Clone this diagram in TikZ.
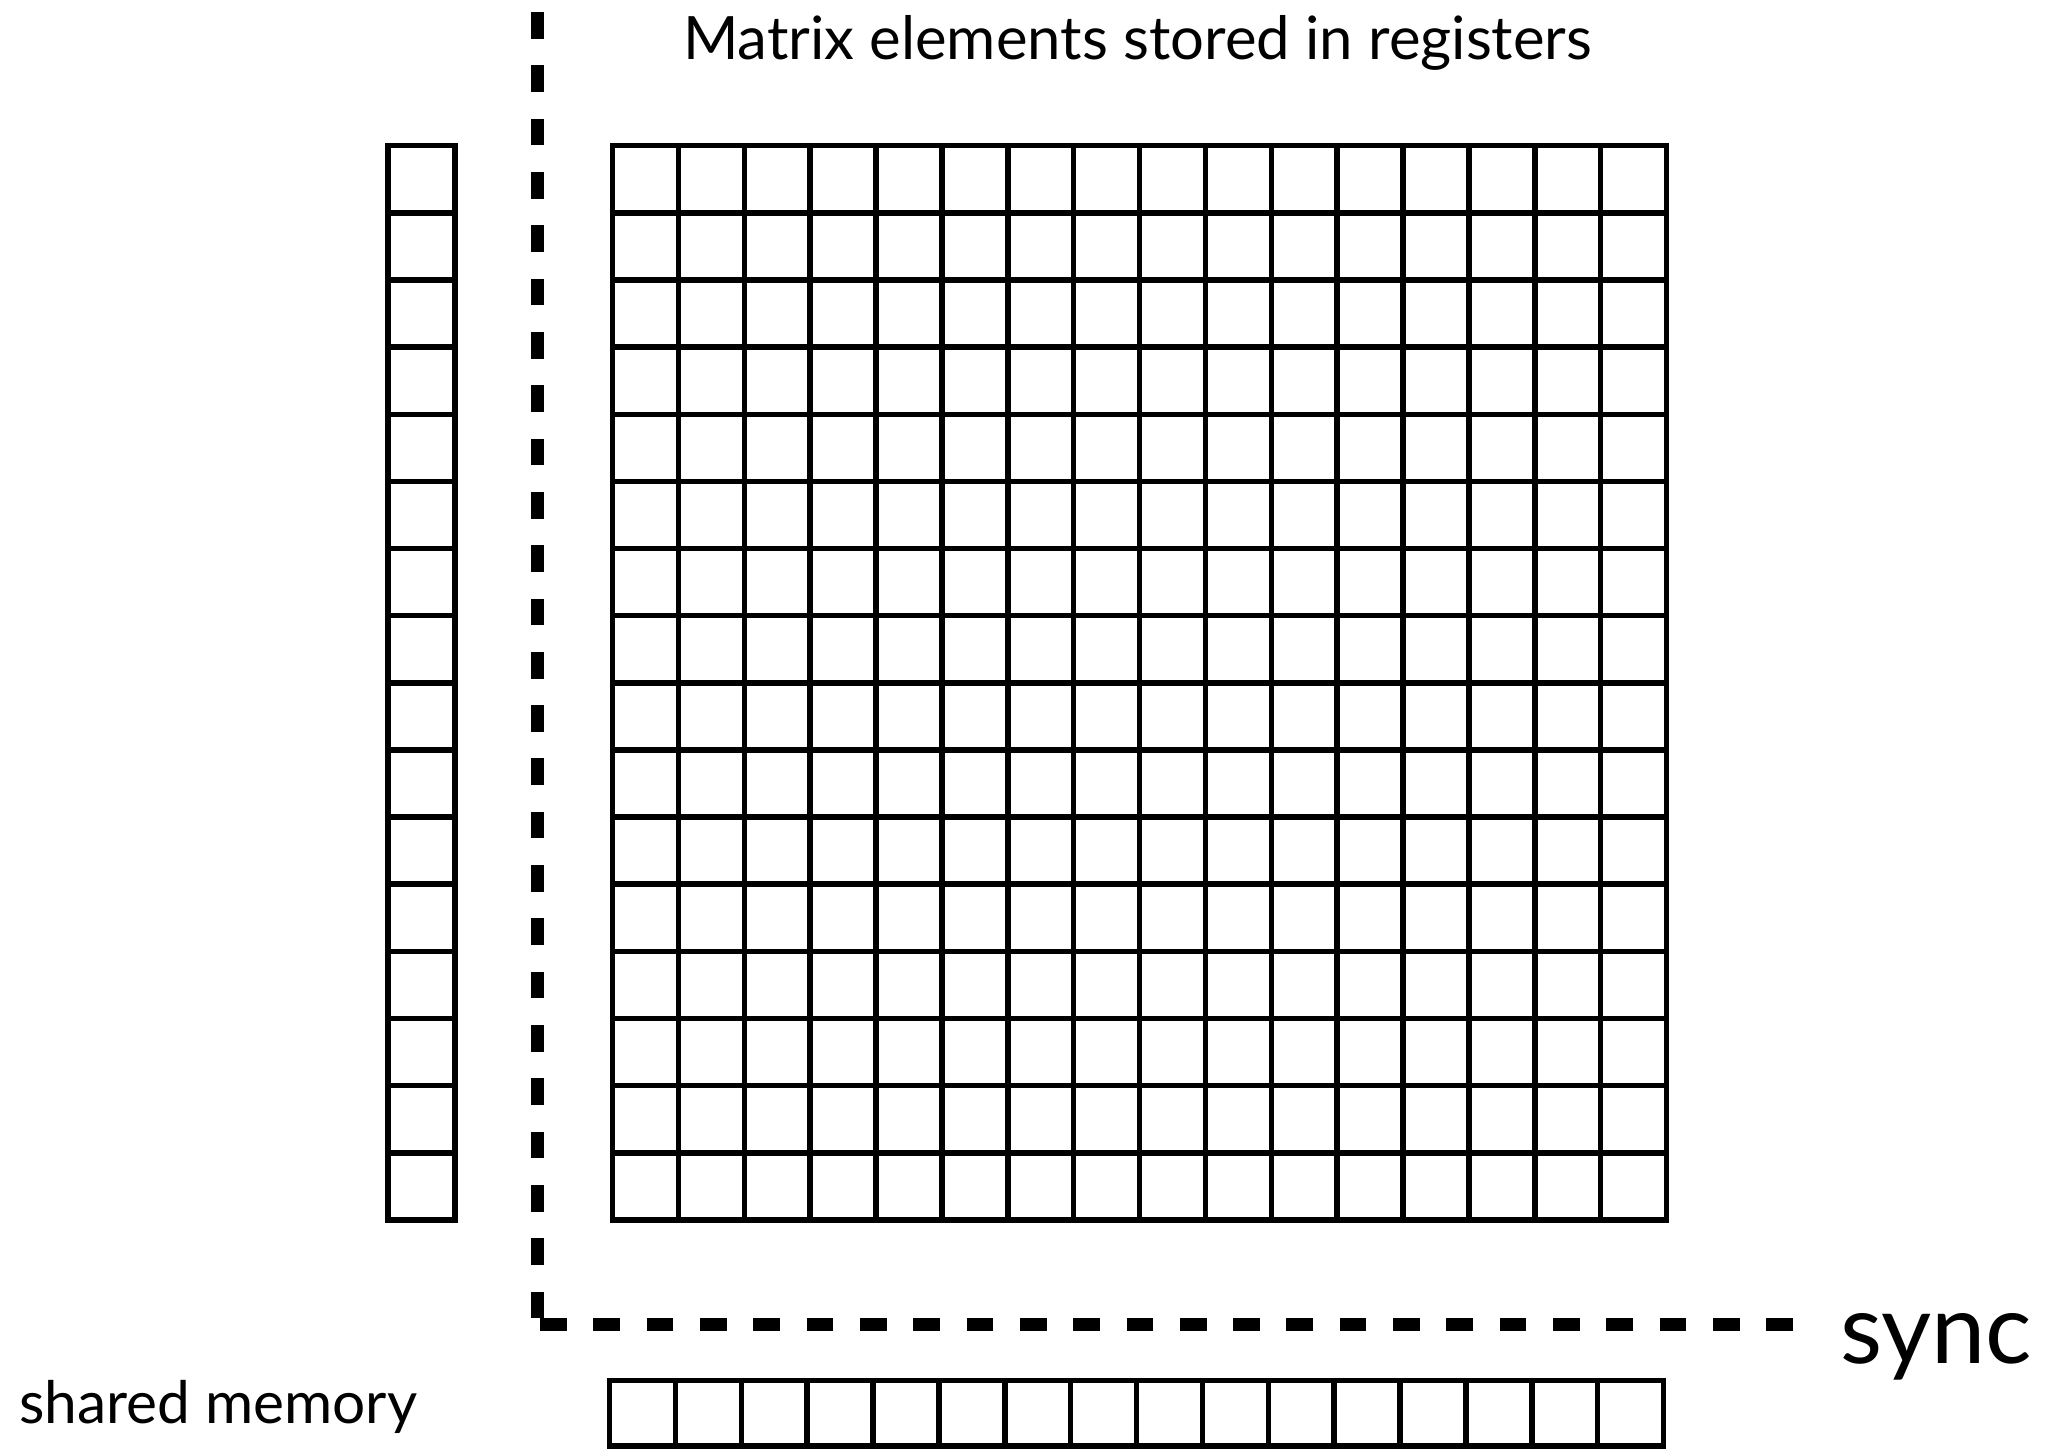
\documentclass[tikz,border=0pt]{standalone}
\usepackage{fontspec}
\setmainfont{Lato}
\begin{document}
\begin{tikzpicture}[x=0.5pt,y=-0.5pt,
  cellline/.style={line width=2.75pt, line join=miter},
  syncline/.style={line width=6.5pt, dash pattern=on 13.33pt off 13.33pt},
  lbl/.style={anchor=base west, inner sep=0pt, outer sep=0pt}]
\useasboundingbox (0,0) rectangle (2046,1451);
% register matrix 16x16
\coordinate (gNW) at (612.5,145.7);
\coordinate (gSE) at (1666.5,1220);
\draw[cellline] (gNW) rectangle (gSE);
\foreach \i in {1,...,15} {
  \draw[cellline] ({612.5+\i*65.875},145.7) -- ({612.5+\i*65.875},1220);
  \draw[cellline] (612.5,{145.7+\i*67.14}) -- (1666.5,{145.7+\i*67.14});
}
% left column (shared memory column)
\coordinate (cNW) at (388,145.7);
\coordinate (cSE) at (455,1220);
\draw[cellline] (cNW) rectangle (cSE);
\foreach \i in {1,...,15} {
  \draw[cellline] (388,{145.7+\i*67.14}) -- (455,{145.7+\i*67.14});
}
% bottom row (shared memory row)
\coordinate (rNW) at (609.5,1380.5);
\coordinate (rSE) at (1663.5,1446);
\draw[cellline] (rNW) rectangle (rSE);
\foreach \i in {1,...,15} {
  \draw[cellline] ({609.5+\i*65.875},1380.5) -- ({609.5+\i*65.875},1446);
}
% sync line
\coordinate (vtop) at (537.5,12);
\coordinate (vend) at (537.5,1319);
\coordinate (hstart) at (540,1324.5);
\coordinate (hend) at (1793.5,1324.5);
\draw[syncline] (vtop) -- (vend);
\draw[syncline] (hstart) -- (hend);
% labels
\node[lbl, font=\fontsize{29.9}{33}\selectfont] (title) at (683,59) {Matrix elements stored in registers};
\node[lbl, font=\fontsize{48.6}{52}\selectfont] (sync) at (1840,1363) {sync};
\node[lbl, font=\fontsize{29.3}{32}\selectfont] (shm) at (19,1423) {shared memory};
\end{tikzpicture}
\end{document}
